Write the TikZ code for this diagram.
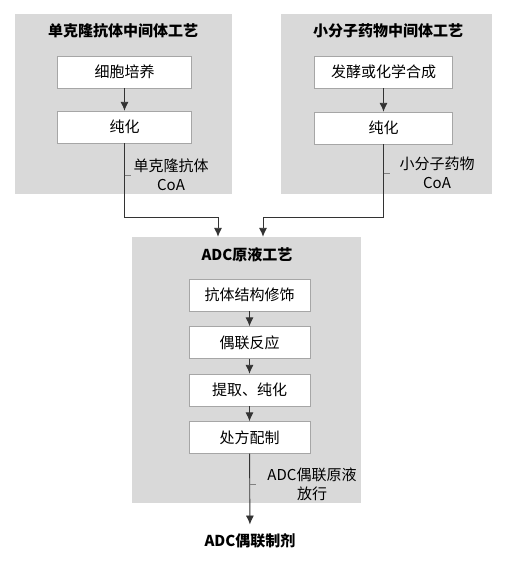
\documentclass[tikz,border=0pt]{standalone}
\usepackage{fontspec}
\setmainfont{Noto Sans CJK SC}
\usepackage{xcolor}
\usetikzlibrary{arrows.meta,calc}
\definecolor{panelgray}{HTML}{D9D9D9}
\definecolor{edgegray}{HTML}{A6A6A6}
\definecolor{linegray}{HTML}{333333}

\begin{document}
\begin{tikzpicture}[x=1pt,y=-1pt,
  >={Latex[length=9pt,width=8pt]},
  panel/.style={fill=panelgray,inner sep=0pt},
  ttl/.style={font=\fontsize{15pt}{19pt}\selectfont\bfseries},
  stepbox/.style={draw=edgegray,fill=white,minimum height=32pt,inner sep=0pt,
                  font=\fontsize{15pt}{19pt}\selectfont},
  lbl/.style={align=center,font=\fontsize{15pt}{19pt}\selectfont},
  conn/.style={draw=linegray,line width=0.9pt},
  tick/.style={draw=gray,line width=0.8pt}]
\useasboundingbox (0,0) rectangle (512,570);
% panels
\node[panel,minimum width=217pt,minimum height=180pt] (mab) at (123.5,104) {};
\node[panel,minimum width=211pt,minimum height=180pt] (drug) at (386.5,104) {};
\node[panel,minimum width=229pt,minimum height=266pt] (adc) at (246.5,370) {};
\node[ttl] (mabttl) at (123,31) {单克隆抗体中间体工艺};
\node[ttl] (drugttl) at (388,31) {小分子药物中间体工艺};
\node[ttl] (adcttl) at (247,255) {ADC原液工艺};
% steps
\node[stepbox,minimum width=134pt] (cell) at (124.5,72) {细胞培养};
\node[stepbox,minimum width=134pt] (pur1) at (124.5,127) {纯化};
\node[stepbox,minimum width=138pt] (ferm) at (383.5,72) {发酵或化学合成};
\node[stepbox,minimum width=138pt] (pur2) at (383.5,128) {纯化};
\node[stepbox,minimum width=121pt] (mod) at (249.5,295) {抗体结构修饰};
\node[stepbox,minimum width=121pt] (conj) at (249.5,342.5) {偶联反应};
\node[stepbox,minimum width=121pt] (ext) at (249.5,390) {提取、纯化};
\node[stepbox,minimum width=121pt] (form) at (249.5,437.5) {处方配制};
% labels
\node[lbl] (mablbl) at (171,175) {单克隆抗体\\CoA};
\node[lbl] (druglbl) at (437,173) {小分子药物\\CoA};
\node[lbl] (adclbl) at (312,484) {ADC偶联原液\\放行};
\node[ttl,inner ysep=9pt] (final) at (250,541) {ADC偶联制剂};
% connectors
\coordinate (bendL) at (218,217);
\coordinate (bendR) at (263,217);
\draw[conn,->] (cell) -- (pur1);
\draw[conn,->] (ferm) -- (pur2);
\draw[conn,->] (mod) -- (conj);
\draw[conn,->] (conj) -- (ext);
\draw[conn,->] (ext) -- (form);
\draw[conn,->] (pur1.south) |- (bendL) -- (bendL |- adc.north);
\draw[conn,->] (pur2.south) |- (bendR) -- (bendR |- adc.north);
\draw[conn,->] (form) -- (final);
\draw[tick] (pur1.south |- mablbl) -- ++(6,0);
\draw[tick] (pur2.south |- druglbl) -- ++(6,0);
\draw[tick] (form.south |- adclbl) -- ++(6,0);
\end{tikzpicture}
\end{document}
